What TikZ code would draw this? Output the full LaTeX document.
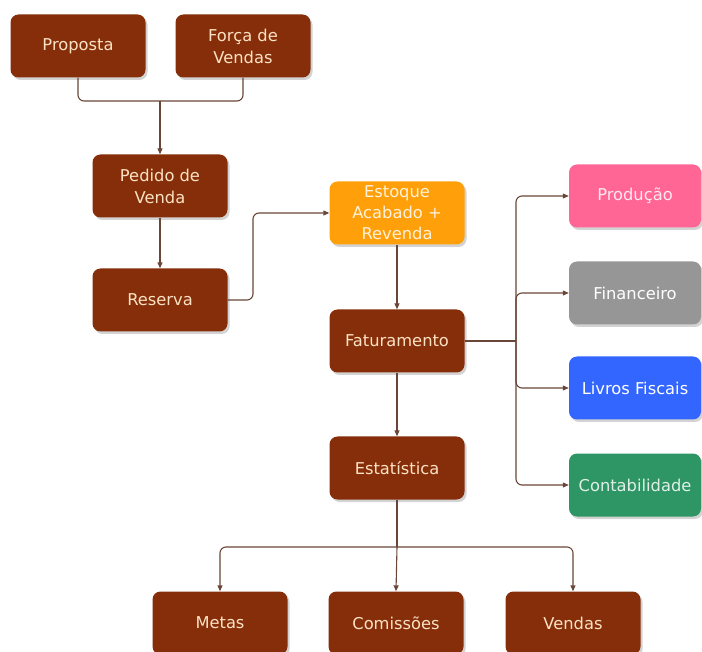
\documentclass[tikz,border=0pt]{standalone}
\usepackage{fontspec}
\setmainfont{DejaVu Sans}
\usetikzlibrary{shadows,arrows.meta}
\definecolor{brn}{RGB}{134,46,10}
\definecolor{txtl}{RGB}{252,226,196}
\definecolor{orng}{RGB}{255,160,10}
\definecolor{pnk}{RGB}{255,102,150}
\definecolor{gry}{RGB}{150,150,150}
\definecolor{blu}{RGB}{51,102,255}
\definecolor{grn}{RGB}{46,150,100}
\definecolor{lin}{RGB}{105,70,55}
\tikzset{
  box/.style={rectangle, rounded corners=8pt, minimum width=135pt, minimum height=63pt,
    fill=brn, text=txtl, align=center, inner sep=1pt,
    font=\fontsize{16.3}{22}\selectfont,
    drop shadow={opacity=0.35, shadow xshift=2pt, shadow yshift=-2.5pt}},
  sidebox/.style={box, minimum width=132pt},
  conn/.style={draw=lin, line width=1.1pt, rounded corners=6pt},
  arr/.style={conn, -{Triangle[length=6pt,width=5pt]}}
}
\begin{document}
\begin{tikzpicture}[x=1pt,y=-1pt]
\useasboundingbox (0,0) rectangle (702,652);
\node[box] (prop) at (78,46) {Proposta};
\node[box] (forca) at (243,46) {Força de\\Vendas};
\node[box] (ped) at (160,186) {Pedido de\\Venda};
\node[box] (res) at (160,300) {Reserva};
\node[box, fill=orng, text=orng!15!white, inner sep=0pt, font=\fontsize{16.3}{21}\selectfont] (est) at (397,213) {Estoque\\Acabado +\\Revenda};
\node[box] (fat) at (397,341) {Faturamento};
\node[box] (esta) at (397,468) {Estatística};
\node[sidebox, fill=pnk, text=pnk!15!white] (prod) at (635,196) {Produção};
\node[sidebox, fill=gry, text=white] (fin) at (635,293) {Financeiro};
\node[sidebox, fill=blu, text=white] (liv) at (635,388) {Livros Fiscais};
\node[sidebox, fill=grn, text=grn!15!white] (cont) at (635,485) {Contabilidade};
\node[box] (met) at (220,623) {Metas};
\node[box] (com) at (396,623) {Comissões};
\node[box] (ven) at (573,623) {Vendas};

\coordinate (j1) at (160,101);
\draw[conn] (prop.south) |- (j1);
\draw[conn] (forca.south) |- (j1);
\draw[arr] (j1) -- (ped.north);
\draw[arr] (ped.south) -- (res.north);
\coordinate (r1) at (253,300);
\draw[arr] (res.east) -- (r1) |- (est.west);
\draw[arr] (est.south) -- (fat.north);
\draw[arr] (fat.south) -- (esta.north);

\coordinate (f1) at (516,341);
\draw[conn] (fat.east) -- (f1);
\draw[arr] (f1) |- (prod.west);
\draw[arr] (f1) |- (fin.west);
\draw[arr] (f1) |- (liv.west);
\draw[arr] (f1) |- (cont.west);

\coordinate (s1) at (397,547);
\draw[conn] (esta.south) -- (s1);
\draw[arr] (s1) -| (met.north);
\draw[arr] (s1) -- (com.north);
\draw[arr] (s1) -| (ven.north);
\end{tikzpicture}
\end{document}
